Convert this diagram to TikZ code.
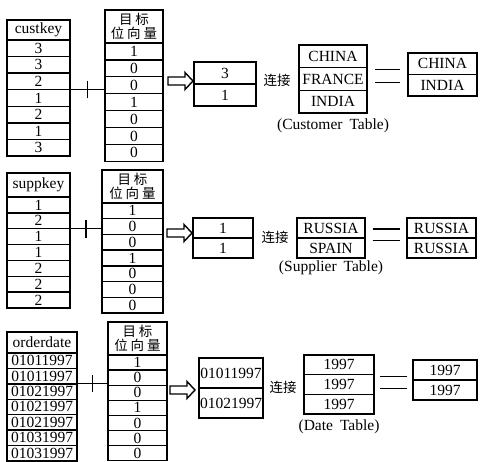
\documentclass[tikz,border=0pt]{standalone}
\usepackage{fontspec}
\setmainfont{Liberation Serif}
\newfontfamily\cjk{Noto Sans CJK SC}
\newfontfamily\cjkwide[LetterSpace=22]{Noto Sans CJK SC}
\usetikzlibrary{positioning}

\begin{document}
\begin{tikzpicture}[x=1pt, y=-1pt,
  cell/.style 2 args={draw, line width=1.4pt, outer sep=0pt, inner sep=0pt, minimum width=#1, minimum height=#2, font=\fontsize{15.5}{17}\selectfont},
  vechead/.style 2 args={cell={#1}{#2}, align=center, font=\cjkwide\fontsize{13.5}{14.5}\selectfont},
  joinlabel/.style={font=\cjk\fontsize{13.5}{15}\selectfont},
  caption/.style={font=\fontsize{15.5}{17}\selectfont, inner sep=1pt},
  bar/.style={line width=1.2pt},
  hollow/.style={draw, line width=1.4pt, line join=miter}
]
  \useasboundingbox (0,0) rectangle (484,462);

  % customer
  \node[cell={63}{20}, anchor=north west] (key1-0) at (7,20) {custkey};
  \foreach \v [count=\i, remember=\i as \p (initially 0)] in {3,3,2,1,2,1,3}
    \node[cell={63}{16.6}, below=0pt of key1-\p] (key1-\i) {\v};
  \node[vechead={58}{33}, anchor=north west] (vec1-0) at (105,10) {目标\\位向量};
  \foreach \v [count=\i, remember=\i as \p (initially 0)] in {1,0,0,1,0,0,0}
    \node[cell={58}{16.9}, below=0pt of vec1-\p] (vec1-\i) {\v};
  \draw[bar] (key1-3.south east) -- coordinate[midway] (plus1) (key1-3.south east -| vec1-0.west);
  \draw[bar] ([yshift=-8.5pt]plus1) -- ([yshift=8.5pt]plus1);

  \node[cell={62}{22}, anchor=north west] (res1-1) at (194,62) {3};
  \node[cell={62}{22}, below=0pt of res1-1] (res1-2) {1};
  \coordinate (arr1) at (193,81);
  \draw[hollow] (arr1) -- ++(-8,-8.5) -- ++(0,4.5) -- ++(-17,0) -- ++(0,8) -- ++(17,0) -- ++(0,4.5) -- cycle;
  \node[joinlabel] (join1) at (277,80) {连接};
  \node[cell={68}{22.7}, anchor=north west] (tab1-1) at (299,45) {CHINA};
  \node[cell={68}{22.7}, below=0pt of tab1-1] (tab1-2) {FRANCE};
  \node[cell={68}{22.7}, below=0pt of tab1-2] (tab1-3) {INDIA};
  \node[caption, below=4pt of tab1-3] (cap1) {(Customer\hspace{0.45em}Table)};
  \node[cell={69}{21.5}, anchor=north west] (out1-1) at (408,53) {CHINA};
  \node[cell={69}{21.5}, below=0pt of out1-1] (out1-2) {INDIA};
  \path (tab1-2.east) -- (out1-1.south west) coordinate[midway] (eq1);
  \draw[bar] ([shift={(-12.5,-7)}]eq1) -- +(25,0);
  \draw[bar] ([shift={(-12.5,6)}]eq1) -- +(25,0);

  % supplier
  \node[cell={63}{24}, anchor=north west] (key2-0) at (7,173) {suppkey};
  \foreach \v [count=\i, remember=\i as \p (initially 0)] in {1,2,1,1,2,2,2}
    \node[cell={63}{15.86}, below=0pt of key2-\p] (key2-\i) {\v};
  \node[vechead={61}{33}, anchor=north west] (vec2-0) at (102,170) {目标\\位向量};
  \foreach \v [count=\i, remember=\i as \p (initially 0)] in {1,0,0,1,0,0,0}
    \node[cell={61}{15.7}, below=0pt of vec2-\p] (vec2-\i) {\v};
  \draw[bar] (key2-2.south east) -- coordinate[midway] (plus2) (key2-2.south east -| vec2-0.west);
  \draw[bar] ([yshift=-9pt]plus2) -- ([yshift=9pt]plus2);

  \node[cell={60}{20}, anchor=north west] (res2-1) at (193,218) {1};
  \node[cell={60}{20}, below=0pt of res2-1] (res2-2) {1};
  \coordinate (arr2) at (192,233);
  \draw[hollow] (arr2) -- ++(-8,-8.5) -- ++(0,4.5) -- ++(-17,0) -- ++(0,8) -- ++(17,0) -- ++(0,4.5) -- cycle;
  \node[joinlabel] (join2) at (275,237) {连接};
  \node[cell={68}{20}, anchor=north west] (tab2-1) at (297,218) {RUSSIA};
  \node[cell={68}{20}, below=0pt of tab2-1] (tab2-2) {SPAIN};
  \node[caption, below=2pt of tab2-2] (cap2) {(Supplier\hspace{0.45em}Table)};
  \node[cell={69}{20}, anchor=north west] (out2-1) at (407,218) {RUSSIA};
  \node[cell={69}{20}, below=0pt of out2-1] (out2-2) {RUSSIA};
  \path (tab2-1.south east) -- (out2-1.south west) coordinate[midway] (eq2);
  \draw[bar] ([shift={(-13.5,-9)}]eq2) -- +(27,0);
  \draw[bar] ([shift={(-13.5,2.5)}]eq2) -- +(27,0);

  % date
  \node[cell={70}{21}, anchor=north west] (key3-0) at (7,332) {orderdate};
  \foreach \v [count=\i, remember=\i as \p (initially 0)] in {01011997,01011997,01021997,01021997,01021997,01031997,01031997}
    \node[cell={70}{15.4}, below=0pt of key3-\p] (key3-\i) {\v};
  \node[vechead={59}{33}, anchor=north west] (vec3-0) at (108,322) {目标\\位向量};
  \foreach \v [count=\i, remember=\i as \p (initially 0)] in {1,0,0,1,0,0,0}
    \node[cell={59}{15.1}, below=0pt of vec3-\p] (vec3-\i) {\v};
  \draw[bar] (key3-2.south east) -- coordinate[midway] (plus3) (key3-2.south east -| vec3-0.west);
  \draw[bar] ([yshift=-8.5pt]plus3) -- ([yshift=8.5pt]plus3);

  \node[cell={64}{30}, anchor=north west] (res3-1) at (199,358) {01011997};
  \node[cell={64}{30}, below=0pt of res3-1] (res3-2) {01021997};
  \coordinate (arr3) at (195,390);
  \draw[hollow] (arr3) -- ++(-8,-8.5) -- ++(0,4.5) -- ++(-17,0) -- ++(0,8) -- ++(17,0) -- ++(0,4.5) -- cycle;
  \node[joinlabel] (join3) at (283,387) {连接};
  \node[cell={70}{19.7}, anchor=north west] (tab3-1) at (304,355) {1997};
  \node[cell={70}{19.7}, below=0pt of tab3-1] (tab3-2) {1997};
  \node[cell={70}{19.7}, below=0pt of tab3-2] (tab3-3) {1997};
  \node[caption, below=4pt of tab3-3] (cap3) {(Date\hspace{0.45em}Table)};
  \node[cell={64}{20}, anchor=north west] (out3-1) at (413,360) {1997};
  \node[cell={64}{20}, below=0pt of out3-1] (out3-2) {1997};
  \path (tab3-2.east) -- (out3-1.south west) coordinate[midway] (eq3);
  \draw[bar] ([shift={(-13.5,-6)}]eq3) -- +(27,0);
  \draw[bar] ([shift={(-13.5,6)}]eq3) -- +(27,0);
\end{tikzpicture}
\end{document}
